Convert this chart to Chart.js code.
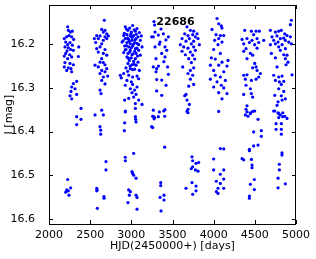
<!DOCTYPE html>
<html>
<head>
<meta charset="utf-8">
<script src="https://cdn.jsdelivr.net/npm/chart.js@4"></script>
<style>
  html, body { margin: 0; padding: 0; background: #fff; }
  canvas { display: block; }
</style>
</head>
<body>
<canvas id="lcChart" width="316" height="259"></canvas>
<script>
// star id shown inside the plot
const starId = '22686';

// tick labels
const xTicks = [2000, 2500, 3000, 3500, 4000, 4500, 5000];
const yTicks = [16.2, 16.3, 16.4, 16.5, 16.6];

// observing seasons: [HJD-2450000, I mag]
const season1 = [
  [2227,16.160],[2235,16.168],[2259,16.172],[2284,16.170],[2243,16.180],[2275,16.183],[2215,16.183],
  [2186,16.187],[2300,16.189],[2203,16.195],[2255,16.196],[2227,16.201],[2284,16.202],[2194,16.206],
  [2235,16.208],[2263,16.212],[2219,16.215],[2296,16.214],[2361,16.206],[2203,16.221],[2251,16.224],
  [2186,16.227],[2275,16.229],[2357,16.228],[2227,16.233],[2194,16.242],[2255,16.244],[2296,16.247],
  [2186,16.252],[2235,16.254],[2267,16.256],[2215,16.260],[2275,16.263],[2336,16.285],[2296,16.290],
  [2275,16.298],[2316,16.302],[2267,16.308],[2336,16.315],[2255,16.318],[2275,16.325],[2389,16.347],
  [2336,16.366],[2389,16.372],[2336,16.384],[2227,16.510],[2263,16.529],[2215,16.534],[2203,16.539],
  [2235,16.536],[2243,16.546]
];
const season2 = [
  [2672,16.145],[2640,16.166],[2680,16.168],[2660,16.172],[2701,16.176],[2579,16.180],[2620,16.181],
  [2680,16.183],[2721,16.181],[2551,16.187],[2599,16.187],[2660,16.191],[2701,16.187],[2567,16.196],
  [2640,16.199],[2620,16.206],[2579,16.210],[2680,16.212],[2599,16.218],[2660,16.221],[2701,16.225],
  [2640,16.233],[2620,16.241],[2660,16.242],[2559,16.248],[2680,16.247],[2599,16.252],[2701,16.256],
  [2640,16.260],[2680,16.263],[2620,16.267],[2713,16.273],[2660,16.275],[2640,16.283],[2680,16.291],
  [2620,16.305],[2632,16.313],[2559,16.362],[2640,16.351],[2660,16.362],[2619,16.389],[2628,16.397],
  [2628,16.406],[2692,16.469],[2692,16.488],[2580,16.530],[2584,16.534],[2580,16.536],[2668,16.549],
  [2668,16.553],[2587,16.576]
];
const season3 = [
  [2927,16.160],[3016,16.157],[3069,16.164],[2959,16.168],[3000,16.172],[3049,16.170],[3097,16.173],
  [2907,16.180],[2947,16.178],[2988,16.181],[3028,16.180],[3081,16.183],[3121,16.181],[2927,16.187],
  [2968,16.189],[3008,16.191],[3057,16.187],[3109,16.191],[2887,16.195],[2947,16.196],[2988,16.199],
  [3040,16.196],[3089,16.201],[2919,16.204],[2968,16.206],[3016,16.204],[3069,16.209],[3130,16.206],
  [2935,16.212],[2988,16.214],[3040,16.216],[3089,16.214],[2907,16.219],[2959,16.221],[3008,16.224],
  [3057,16.221],[3109,16.225],[2947,16.229],[3000,16.231],[3049,16.233],[2976,16.237],[3028,16.239],
  [3081,16.241],[2959,16.244],[3008,16.247],[3057,16.248],[2935,16.254],[2988,16.256],[3040,16.257],
  [3097,16.260],[2866,16.271],[2907,16.267],[2968,16.271],[3016,16.275],[3069,16.273],[2878,16.277],
  [2947,16.283],[3000,16.286],[3089,16.279],[2927,16.294],[3016,16.292],[3069,16.298],[2988,16.302],
  [3040,16.305],[3008,16.311],[3057,16.315],[3028,16.321],[2968,16.324],[2919,16.328],[3089,16.328],
  [3049,16.336],[3130,16.338],[3049,16.347],[2927,16.353],
  [2940,16.165],[2980,16.163],[3035,16.167],[2915,16.175],[2995,16.176],[3060,16.177],[3010,16.184],
  [2955,16.186],[3045,16.190],[2900,16.192],[2975,16.194],[3025,16.200],[3070,16.198],[2940,16.203],
  [3000,16.208],[3050,16.210],[2925,16.213],[2980,16.218],[3020,16.222],[3075,16.227],[2965,16.232],
  [3030,16.245],[2985,16.250],[3015,16.258],[2955,16.262],
  [2927,16.355],[3049,16.366],[3053,16.372],[3057,16.378],[2919,16.380],[2915,16.398],[3028,16.450],
  [2927,16.459],[2927,16.467],[3008,16.492],[3016,16.496],[3028,16.500],[3057,16.507],[2968,16.534],
  [2988,16.538],[2976,16.546],[3057,16.546],[3069,16.551],[2959,16.563],[3069,16.578]
];
const season4 = [
  [3275,16.148],[3283,16.156],[3267,16.183],[3288,16.172],[3247,16.183],[3328,16.179],[3389,16.176],
  [3450,16.183],[3349,16.195],[3288,16.206],[3409,16.206],[3430,16.214],[3369,16.221],[3300,16.233],
  [3409,16.229],[3308,16.256],[3300,16.263],[3308,16.281],[3369,16.282],[3450,16.269],[3421,16.294],
  [3308,16.307],[3369,16.317],[3267,16.252],[3360,16.165],[3420,16.190],[3340,16.200],[3395,16.240],
  [3330,16.250],[3440,16.252],
  [3267,16.351],[3340,16.355],[3409,16.350],[3267,16.365],[3328,16.366],[3276,16.371],[3393,16.353],
  [3259,16.365],[3283,16.368],[3405,16.365],[3259,16.391],[3247,16.389],[3405,16.436],[3357,16.517],
  [3357,16.524],[3397,16.546],[3397,16.557],[3349,16.551],[3361,16.582]
];
const season5 = [
  [3676,16.160],[3717,16.168],[3757,16.170],[3648,16.176],[3688,16.180],[3745,16.178],[3798,16.176],
  [3778,16.183],[3616,16.187],[3705,16.187],[3810,16.187],[3664,16.193],[3757,16.193],[3595,16.201],
  [3729,16.199],[3826,16.201],[3636,16.206],[3688,16.209],[3757,16.206],[3616,16.216],[3717,16.218],
  [3778,16.214],[3656,16.224],[3745,16.225],[3697,16.233],[3769,16.234],[3729,16.242],[3624,16.252],
  [3757,16.254],[3717,16.260],[3688,16.267],[3745,16.271],[3717,16.280],[3697,16.296],[3757,16.292],
  [3648,16.318],[3664,16.315],[3676,16.328],[3705,16.338],[3688,16.349],[3676,16.354],
  [3688,16.357],[3737,16.458],[3745,16.467],[3786,16.473],[3818,16.471],[3745,16.481],[3729,16.485],
  [3778,16.488],[3810,16.491],[3737,16.517],[3786,16.525],[3664,16.530],[3786,16.536],[3745,16.544]
];
const season6 = [
  [4041,16.141],[4061,16.153],[4093,16.158],[4101,16.163],[3980,16.166],[4029,16.178],[4081,16.180],
  [4122,16.180],[4012,16.191],[4061,16.187],[4101,16.195],[4053,16.201],[4000,16.212],[4081,16.221],
  [3972,16.231],[4020,16.234],[4174,16.237],[4101,16.241],[3960,16.248],[4061,16.248],[4162,16.250],
  [4000,16.260],[4122,16.263],[4020,16.271],[4081,16.275],[3960,16.280],[4142,16.283],[4041,16.286],
  [4093,16.294],[4000,16.298],[4122,16.300],[4061,16.311],[4162,16.313],[4101,16.325],[4061,16.354],
  [4081,16.439],[4122,16.440],[4000,16.463],[4000,16.488],[4122,16.488],[4081,16.498],[4122,16.509],
  [4033,16.514],[4081,16.519],[4053,16.530],[4122,16.530],[4033,16.538],[4053,16.542]
];
const season7 = [
  [4377,16.168],[4458,16.170],[4515,16.170],[4555,16.170],[4486,16.178],[4345,16.189],[4405,16.187],
  [4466,16.191],[4527,16.187],[4608,16.191],[4365,16.199],[4434,16.196],[4498,16.201],[4547,16.196],
  [4393,16.210],[4527,16.209],[4365,16.216],[4446,16.221],[4474,16.225],[4405,16.233],[4498,16.244],
  [4515,16.252],[4474,16.254],[4527,16.260],[4365,16.271],[4405,16.270],[4385,16.280],[4458,16.283],
  [4547,16.275],[4567,16.267],[4515,16.280],[4393,16.294],[4446,16.302],[4365,16.315],[4458,16.313],
  [4474,16.321],[4405,16.341],[4393,16.349],[4474,16.354],[4446,16.359],
  [4405,16.355],[4417,16.365],[4385,16.362],[4446,16.357],[4498,16.353],[4539,16.372],[4486,16.401],
  [4579,16.398],[4579,16.411],[4486,16.433],[4539,16.431],[4434,16.441],[4434,16.444],[4345,16.462],
  [4365,16.465],[4458,16.464],[4466,16.477],[4466,16.483],[4494,16.510],[4446,16.521],[4494,16.533],
  [4434,16.548],[4434,16.553]
];
const season8 = [
  [4944,16.145],[4932,16.155],[4689,16.168],[4750,16.172],[4790,16.170],[4822,16.168],[4863,16.176],
  [4891,16.180],[4932,16.183],[4709,16.183],[4770,16.181],[4810,16.187],[4851,16.186],[4729,16.191],
  [4782,16.195],[4871,16.191],[4912,16.195],[4689,16.201],[4750,16.199],[4831,16.201],[4944,16.199],
  [4790,16.206],[4871,16.210],[4810,16.214],[4701,16.221],[4851,16.224],[4891,16.225],[4750,16.231],
  [4871,16.233],[4903,16.241],[4879,16.247],[4770,16.252],[4729,16.271],[4790,16.275],[4831,16.273],
  [4952,16.270],[4750,16.283],[4798,16.286],[4851,16.285],[4822,16.292],[4790,16.302],[4851,16.308],
  [4742,16.317],[4822,16.318],[4871,16.325],[4782,16.332],[4831,16.328],[4770,16.340],[4742,16.353],
  [4790,16.359],[4839,16.357],
  [4729,16.353],[4782,16.357],[4810,16.362],[4839,16.366],[4790,16.368],[4863,16.365],[4891,16.370],
  [4758,16.382],[4822,16.382],[4758,16.395],[4822,16.395],[4822,16.406],[4830,16.449],[4830,16.454],
  [4798,16.475],[4798,16.488],[4782,16.507],[4871,16.520],[4782,16.529]
];

const seasons = [season1, season2, season3, season4, season5, season6, season7, season8];
const points = seasons.flat().map(([hjd, mag]) => ({x: hjd, y: mag}));

const FONT = '"DejaVu Sans", sans-serif';

// box frame with inward ticks on all four sides, plus the star id
const framePlugin = {
  id: 'frame',
  afterDraw(chart) {
    const {ctx, chartArea: a, scales: {x, y}} = chart;
    ctx.save();
    ctx.strokeStyle = '#000';
    ctx.lineWidth = 1;
    ctx.strokeRect(a.left + 0.5, a.top + 0.5, a.right - a.left - 1, a.bottom - a.top);
    ctx.beginPath();
    xTicks.forEach(v => {
      const px = Math.round(x.getPixelForValue(v)) + 0.5;
      ctx.moveTo(px, a.bottom); ctx.lineTo(px, a.bottom - 4);
      ctx.moveTo(px, a.top); ctx.lineTo(px, a.top + 4);
    });
    yTicks.forEach(v => {
      const py = Math.round(y.getPixelForValue(v)) + 0.5;
      ctx.moveTo(a.left, py); ctx.lineTo(a.left + 4, py);
      ctx.moveTo(a.right, py); ctx.lineTo(a.right - 4, py);
    });
    ctx.stroke();
    ctx.fillStyle = '#000';
    ctx.font = 'bold 11px ' + FONT;
    ctx.textAlign = 'center';
    ctx.textBaseline = 'middle';
    ctx.fillText(starId, (a.left + a.right) / 2 + 3, a.top + 17);
    ctx.restore();
  }
};

const ctx = document.getElementById('lcChart').getContext('2d');
new Chart(ctx, {
  type: 'scatter',
  data: {
    datasets: [{
      data: points,
      backgroundColor: '#0000ff',
      borderWidth: 0,
      pointRadius: 1.6,
      pointHoverRadius: 1.6
    }]
  },
  options: {
    responsive: false,
    animation: false,
    devicePixelRatio: 1,
    layout: { padding: { left: 0, right: 20, top: 5, bottom: 0 } },
    plugins: { legend: { display: false }, tooltip: { enabled: false } },
    scales: {
      x: {
        type: 'linear',
        min: 2000,
        max: 5000,
        grid: { display: false },
        border: { display: false },
        afterBuildTicks: s => { s.ticks = xTicks.map(v => ({value: v})); },
        afterFit: s => { s.height = 35; s.paddingLeft = 0; s.paddingRight = 0; },
        ticks: { color: '#000', font: { family: FONT, size: 11 }, padding: -3, maxRotation: 0,
                 callback: v => String(v) },
        title: { display: true, text: 'HJD(2450000+) [days]', color: '#000',
                 font: { family: FONT, size: 11 }, padding: { top: 0, bottom: 6 } }
      },
      y: {
        type: 'linear',
        reverse: true,
        min: 16.11,
        max: 16.612,
        grid: { display: false },
        border: { display: false },
        afterBuildTicks: s => { s.ticks = yTicks.map(v => ({value: v})); },
        afterFit: s => { s.width = 49; s.paddingTop = 0; s.paddingBottom = 0; },
        ticks: { color: '#000', font: { family: FONT, size: 11 }, padding: 6,
                 callback: v => v.toFixed(1) },
        title: { display: true, text: 'I [mag]', color: '#000',
                 font: { family: FONT, size: 11 }, padding: { top: 3, bottom: 0 } }
      }
    }
  },
  plugins: [framePlugin]
});
</script>
</body>
</html>
